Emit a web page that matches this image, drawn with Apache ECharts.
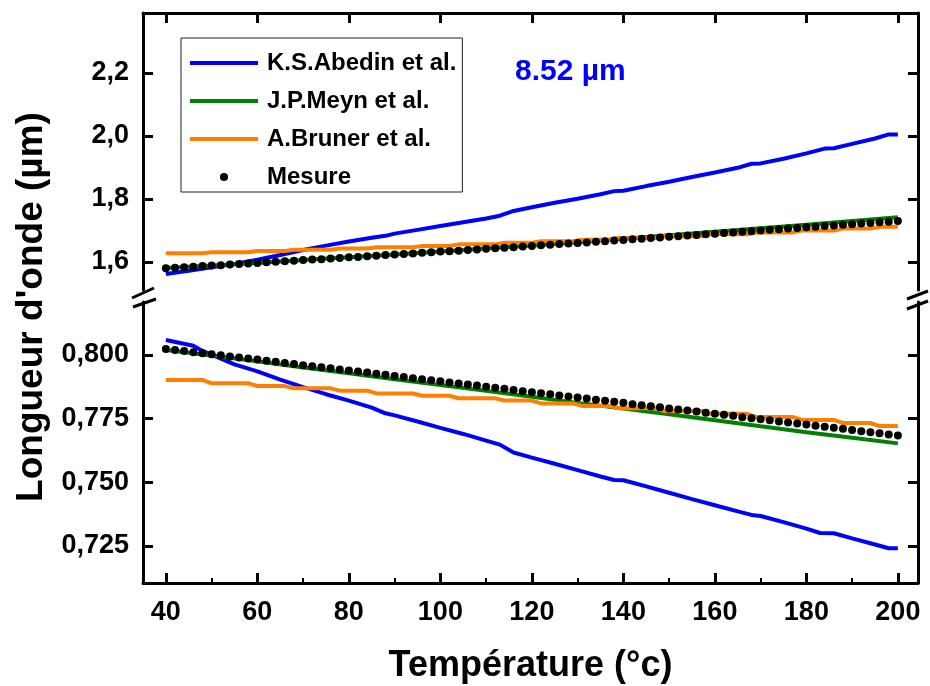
<!DOCTYPE html>
<html>
<head>
<meta charset="utf-8">
<script src="https://cdn.jsdelivr.net/npm/echarts@6/dist/echarts.min.js"></script>
<style>
html,body{margin:0;padding:0;background:#fff;}
#chart{width:930px;height:686px;}
</style>
</head>
<body>
<div id="chart"></div>
<script>
// ---------- data ----------
const xTicks = [40, 60, 80, 100, 120, 140, 160, 180, 200];
const xMinorTicks = [50, 70, 90, 110, 130, 150, 170, 190];
const yTicksUpper = [1.6, 1.8, 2.0, 2.2];
const yTicksLower = [0.725, 0.750, 0.775, 0.800];

const seriesNames = ['K.S.Abedin et al.', 'J.P.Meyn et al.', 'A.Bruner et al.', 'Mesure'];

// K.S.Abedin et al.
const abedinUpperX = [40,45,50,55,60,65,70,75,80,85,88,90,95,100,105,110,113,116,120,125,130,135,138,140,145,150,155,160,165,168,170,175,180,184,186,190,195,198,200];
const abedinUpperY = [1.562,1.572,1.583,1.594,1.607,1.622,1.638,1.652,1.665,1.677,1.683,1.690,1.702,1.714,1.726,1.738,1.747,1.762,1.774,1.788,1.801,1.815,1.825,1.826,1.841,1.855,1.870,1.884,1.899,1.912,1.913,1.928,1.945,1.960,1.961,1.975,1.992,2.005,2.005];
const abedinLowerX = [40,46,48,55,60,65,70,75,80,85,88,90,95,100,105,110,113,116,120,125,130,135,138,140,145,150,155,160,165,168,170,175,180,183,186,190,195,198,200];
const abedinLowerY = [0.8059,0.8036,0.8016,0.7963,0.7936,0.7903,0.7874,0.7846,0.7821,0.7793,0.7771,0.7763,0.7739,0.7714,0.7690,0.7664,0.7648,0.7617,0.7597,0.7573,0.7548,0.7523,0.7509,0.7508,0.7484,0.7459,0.7434,0.7410,0.7386,0.7372,0.7368,0.7344,0.7318,0.7301,0.7300,0.7280,0.7256,0.7241,0.7241];

// J.P.Meyn et al.
const meynX = [40,50,60,70,80,90,100,110,120,130,140,150,160,170,180,190,200];
const meynUpperY = [1.581,1.589,1.597,1.606,1.615,1.624,1.633,1.643,1.652,1.663,1.674,1.685,1.696,1.707,1.718,1.730,1.742];
const meynLowerY = [0.8020,0.7998,0.7975,0.7951,0.7928,0.7905,0.7882,0.7860,0.7836,0.7812,0.7790,0.7767,0.7744,0.7720,0.7697,0.7675,0.7653];

// A.Bruner et al. (stepped)
const brunerX = [40,48,50,58,60,66,68,76,78,84,86,94,96,102,104,112,114,120,122,129,131,137,139,147,149,157,159,167,169,177,179,186,188,194,196,200];
const brunerUpperY = [1.628,1.628,1.631,1.631,1.635,1.635,1.639,1.639,1.643,1.643,1.647,1.647,1.651,1.651,1.656,1.656,1.661,1.661,1.666,1.666,1.671,1.671,1.676,1.676,1.682,1.682,1.688,1.688,1.694,1.694,1.700,1.700,1.706,1.706,1.712,1.712];
const brunerLowerY = [0.7902,0.7902,0.7889,0.7889,0.7878,0.7878,0.7869,0.7869,0.7860,0.7860,0.7849,0.7849,0.7840,0.7840,0.7830,0.7830,0.7821,0.7821,0.7810,0.7810,0.7800,0.7800,0.7791,0.7791,0.7780,0.7780,0.7769,0.7769,0.7757,0.7757,0.7745,0.7745,0.7733,0.7733,0.7721,0.7721];

// Mesure (dots)
const mesureX = [40,42,44,46,48,50,52,54,56,58,60,62,64,66,68,70,72,74,76,78,80,82,84,86,88,90,92,94,96,98,100,102,104,106,108,110,112,114,116,118,120,122,124,126,128,130,132,134,136,138,140,142,144,146,148,150,152,154,156,158,160,162,164,166,168,170,172,174,176,178,180,182,184,186,188,190,192,194,196,198,200];
const mesureUpperY = [1.580,1.582,1.583,1.585,1.587,1.589,1.590,1.592,1.594,1.595,1.597,1.599,1.601,1.602,1.604,1.606,1.608,1.609,1.611,1.613,1.615,1.616,1.618,1.620,1.622,1.624,1.625,1.627,1.629,1.631,1.633,1.634,1.636,1.638,1.640,1.642,1.644,1.645,1.647,1.649,1.651,1.653,1.655,1.657,1.659,1.660,1.662,1.664,1.666,1.668,1.670,1.672,1.674,1.676,1.678,1.680,1.682,1.684,1.686,1.688,1.690,1.692,1.694,1.696,1.698,1.700,1.702,1.704,1.706,1.708,1.710,1.712,1.714,1.716,1.718,1.720,1.722,1.724,1.726,1.728,1.730];
const mesureLowerY = [0.8024,0.8020,0.8016,0.8011,0.8007,0.8003,0.7999,0.7994,0.7990,0.7986,0.7982,0.7977,0.7973,0.7969,0.7965,0.7960,0.7956,0.7952,0.7948,0.7943,0.7939,0.7935,0.7931,0.7926,0.7922,0.7918,0.7914,0.7909,0.7905,0.7901,0.7897,0.7892,0.7888,0.7884,0.7880,0.7875,0.7871,0.7867,0.7863,0.7858,0.7854,0.7850,0.7846,0.7841,0.7837,0.7833,0.7829,0.7824,0.7820,0.7816,0.7812,0.7807,0.7803,0.7799,0.7795,0.7790,0.7786,0.7782,0.7778,0.7773,0.7769,0.7765,0.7761,0.7756,0.7752,0.7748,0.7744,0.7739,0.7735,0.7731,0.7727,0.7722,0.7718,0.7714,0.7710,0.7705,0.7701,0.7697,0.7693,0.7688,0.7684];

// ---------- chart ----------
const FONT = 'Liberation Sans, Arial, sans-serif';
const colors = ['#0000ff', '#008000', '#ff8000', '#000000'];
const pairs = (xs, ys) => xs.map((x, i) => [x, ys[i]]);

const X_MIN = 35, X_MAX = 204.4;
const UP_MIN = 1.5111, UP_MAX = 2.3905;
const LO_MIN = 0.71047, LO_MAX = 0.82081;

const axisLine = { show: true, onZero: false, lineStyle: { color: '#000', width: 3 } };

function xAxisBase(grid, pos) {
  return {
    type: 'value', gridIndex: grid, position: pos, min: X_MIN, max: X_MAX,
    axisLine: axisLine, splitLine: { show: false },
    axisTick: { show: true, inside: true, length: 10, customValues: xTicks, lineStyle: { color: '#000', width: 3 } },
    axisLabel: { show: false }
  };
}
function yAxisBase(grid, pos, mn, mx, ticks, labels, dec) {
  return {
    type: 'value', gridIndex: grid, position: pos, min: mn, max: mx,
    axisLine: axisLine, splitLine: { show: false },
    axisTick: { show: true, inside: true, length: 10, customValues: ticks, lineStyle: { color: '#000', width: 3 } },
    axisLabel: labels ? {
      show: true, customValues: ticks, margin: 14,
      fontFamily: FONT, fontWeight: 'bold', fontSize: 27, color: '#000',
      formatter: v => Number(v).toFixed(dec).replace('.', ',')
    } : { show: false }
  };
}

const lowerX = xAxisBase(1, 'bottom');
lowerX.axisLabel = {
  show: true, customValues: xTicks, margin: 16,
  fontFamily: FONT, fontWeight: 'bold', fontSize: 27, color: '#000'
};
lowerX.name = 'Température (°c)';
lowerX.nameLocation = 'middle';
lowerX.nameGap = 65;
lowerX.nameTextStyle = { fontFamily: FONT, fontWeight: 'bold', fontSize: 36, color: '#000' };

const minorX = {
  type: 'value', gridIndex: 1, position: 'bottom', min: X_MIN, max: X_MAX,
  axisLine: { show: false }, splitLine: { show: false },
  axisTick: { show: true, inside: true, length: 5, customValues: xMinorTicks, lineStyle: { color: '#000', width: 2 } },
  axisLabel: { show: false }
};

function lineSeries(name, idx, data, up) {
  return {
    name: name, type: 'line', xAxisIndex: up ? 0 : 1, yAxisIndex: up ? 0 : 2,
    data: data, showSymbol: false, symbol: 'none',
    lineStyle: { color: colors[idx], width: 4 },
    itemStyle: { color: colors[idx], opacity: 0 },
    z: 2 + idx
  };
}
function dotSeries(data, up) {
  return {
    name: seriesNames[3], type: 'scatter', xAxisIndex: up ? 0 : 1, yAxisIndex: up ? 0 : 2,
    data: data, symbol: 'circle', symbolSize: 8,
    itemStyle: { color: '#000', opacity: 1 }, z: 10
  };
}

const slash = (x1, y1, x2, y2) => ({
  type: 'line', z: 100, shape: { x1, y1, x2, y2 },
  style: { stroke: '#000', lineWidth: 3 }
});

const option = {
  animation: false,
  backgroundColor: '#fff',
  grid: [
    { left: 143, right: 12, top: 13, height: 277 },
    { left: 143, right: 12, top: 302, bottom: 103 }
  ],
  xAxis: [xAxisBase(0, 'top'), lowerX, minorX],
  yAxis: [
    yAxisBase(0, 'left', UP_MIN, UP_MAX, yTicksUpper, true, 1),
    yAxisBase(0, 'right', UP_MIN, UP_MAX, yTicksUpper, false, 1),
    yAxisBase(1, 'left', LO_MIN, LO_MAX, yTicksLower, true, 3),
    yAxisBase(1, 'right', LO_MIN, LO_MAX, yTicksLower, false, 3)
  ],
  legend: {
    orient: 'vertical', left: 181, top: 38,
    data: seriesNames,
    itemWidth: 68, itemHeight: 8, itemGap: 14,
    padding: [13, 6, 3, 7],
    borderColor: '#222', borderWidth: 1,
    lineStyle: { width: 4 },
    textStyle: { fontFamily: FONT, fontWeight: 'bold', fontSize: 24, color: '#000', padding: [0, 0, 0, 4] }
  },
  series: [
    lineSeries(seriesNames[0], 0, pairs(abedinUpperX, abedinUpperY), true),
    lineSeries(seriesNames[0], 0, pairs(abedinLowerX, abedinLowerY), false),
    lineSeries(seriesNames[1], 1, pairs(meynX, meynUpperY), true),
    lineSeries(seriesNames[1], 1, pairs(meynX, meynLowerY), false),
    lineSeries(seriesNames[2], 2, pairs(brunerX, brunerUpperY), true),
    lineSeries(seriesNames[2], 2, pairs(brunerX, brunerLowerY), false),
    dotSeries(pairs(mesureX, mesureUpperY), true),
    dotSeries(pairs(mesureX, mesureLowerY), false)
  ],
  graphic: [
    {
      type: 'text', x: 32, y: 307, rotation: Math.PI / 2,
      style: { text: "Longueur d'onde (µm)", fontFamily: FONT, fontWeight: 'bold', fontSize: 37, fill: '#000', align: 'center', verticalAlign: 'middle' }
    },
    {
      type: 'text', x: 515, y: 72,
      style: { text: '8.52 µm', fontFamily: FONT, fontWeight: 'bold', fontSize: 30, fill: '#0000ff', align: 'left', verticalAlign: 'middle' }
    },
    slash(132, 298, 154, 288),
    slash(133, 307, 156, 299),
    slash(907, 299, 928, 291),
    slash(907, 309, 928, 301)
  ]
};

const chart = echarts.init(document.getElementById('chart'), null, { renderer: 'canvas' });
chart.setOption(option);
</script>
</body>
</html>
